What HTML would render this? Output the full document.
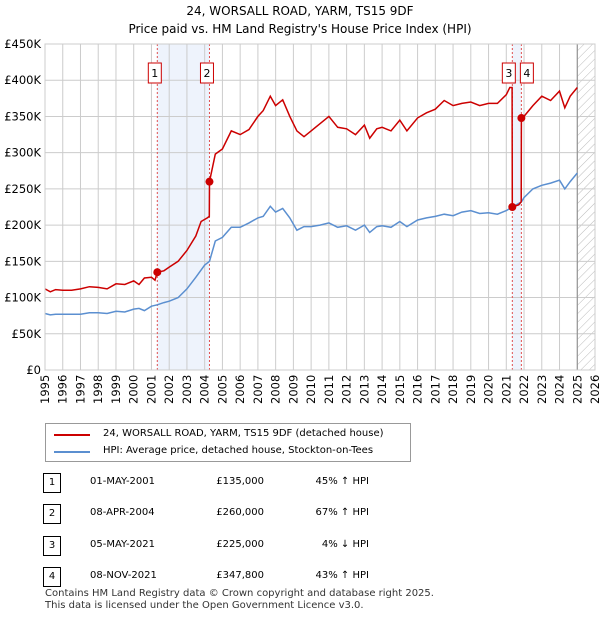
<!DOCTYPE html>
<html><head><meta charset="utf-8"><style>
body{margin:0;background:#fff;font-family:"DejaVu Sans","Liberation Sans",sans-serif;}
#wrap{position:relative;width:600px;height:620px;overflow:hidden;}
.t{position:absolute;font-size:10px;color:#000;white-space:nowrap;}
</style></head><body>
<div id="wrap">
<div class="t" style="left:0;width:600px;text-align:center;top:4px;font-size:12px;">24, WORSALL ROAD, YARM, TS15 9DF</div>
<div class="t" style="left:0;width:600px;text-align:center;top:22px;font-size:12px;">Price paid vs. HM Land Registry's House Price Index (HPI)</div>
<svg id="chart" width="600" height="420" style="position:absolute;left:0;top:0;font-family:'DejaVu Sans','Liberation Sans',sans-serif;"></svg>
<div style="position:absolute;left:45px;top:423px;width:364px;height:37px;border:1px solid #999;">
 <div style="position:absolute;left:8px;top:10px;width:36px;height:2px;background:#cc0000"></div>
 <div class="t" style="left:57px;top:4px;font-size:10px;">24, WORSALL ROAD, YARM, TS15 9DF (detached house)</div>
 <div style="position:absolute;left:8px;top:27px;width:36px;height:2px;background:#5b8fd0"></div>
 <div class="t" style="left:57px;top:21px;font-size:10px;">HPI: Average price, detached house, Stockton-on-Tees</div>
</div>
<div id="table"></div>
<div class="t" style="left:45px;top:588px;font-size:10px;color:#333;">Contains HM Land Registry data © Crown copyright and database right 2025.</div>
<div class="t" style="left:45px;top:600px;font-size:10px;color:#333;">This data is licensed under the Open Government Licence v3.0.</div>
</div>
<script>
const hpiYears=[1995,1995.3,1995.6,1996,1996.5,1997,1997.5,1998,1998.5,1999,1999.5,2000,2000.3,2000.6,2001,2001.33,2001.7,2002,2002.5,2003,2003.5,2004,2004.27,2004.6,2005,2005.5,2006,2006.5,2007,2007.3,2007.7,2008,2008.4,2008.8,2009.2,2009.6,2010,2010.5,2011,2011.5,2012,2012.5,2013,2013.3,2013.7,2014,2014.5,2015,2015.4,2016,2016.5,2017,2017.5,2018,2018.5,2019,2019.5,2020,2020.5,2021,2021.34,2021.85,2022,2022.5,2023,2023.5,2024,2024.3,2024.6,2025];
const hpiValues=[78,76,77,77,77,77,79,79,78,81,80,84,85,82,88,90,93,95,100,112,128,145,150,178,183,197,197,203,210,212,226,218,223,210,193,198,198,200,203,197,199,193,200,190,198,199,197,205,198,207,210,212,215,213,218,220,216,217,215,220,225,232,238,250,255,258,262,250,260,272];
const redYears=[1995,1995.3,1995.6,1996,1996.5,1997,1997.5,1998,1998.5,1999,1999.5,2000,2000.3,2000.6,2001,2001.2,2001.33,2001.7,2002,2002.5,2003,2003.5,2003.8,2004.15,2004.26,2004.27,2004.6,2005,2005.5,2006,2006.5,2007,2007.3,2007.7,2008,2008.4,2008.8,2009.2,2009.6,2010,2010.5,2011,2011.5,2012,2012.5,2013,2013.3,2013.7,2014,2014.5,2015,2015.4,2016,2016.5,2017,2017.5,2018,2018.5,2019,2019.5,2020,2020.5,2021,2021.2,2021.33,2021.34,2021.7,2021.84,2021.85,2022,2022.5,2023,2023.5,2024,2024.3,2024.6,2025];
const redValues=[112,108,111,110,110,112,115,114,112,119,118,123,118,127,128,124,135,137,142,150,165,185,205,210,212,260,298,305,330,325,332,350,358,378,365,373,350,330,322,330,340,350,335,333,325,338,320,333,335,330,345,330,348,355,360,372,365,368,370,365,368,368,380,390,390,225,228,232,347.8,350,365,378,372,385,362,378,390];
const saleYears=[2001.33,2004.27,2021.34,2021.85];
const salePrices=[135,260,225,347.8];
const saleLabels=["1","2","3","4"];
const yTicks=[0,50,100,150,200,250,300,350,400,450];
const yTickLabels=["£0","£50K","£100K","£150K","£200K","£250K","£300K","£350K","£400K","£450K"];
const xTicks=[1995,1996,1997,1998,1999,2000,2001,2002,2003,2004,2005,2006,2007,2008,2009,2010,2011,2012,2013,2014,2015,2016,2017,2018,2019,2020,2021,2022,2023,2024,2025,2026];
const tableDates=["01-MAY-2001","08-APR-2004","05-MAY-2021","08-NOV-2021"];
const tablePrices=["£135,000","£260,000","£225,000","£347,800"];
const tableHpi=["45% ↑ HPI","67% ↑ HPI","4% ↓ HPI","43% ↑ HPI"];

const L=45,R=595,T=44,B=370;
const x=v=>L+(v-1995)/31*(R-L);
const y=v=>B-v/450*(B-T);
const svg=document.getElementById('chart');
const NS='http://www.w3.org/2000/svg';
function mk(tag,attrs,parent){const e=document.createElementNS(NS,tag);for(const k in attrs)e.setAttribute(k,attrs[k]);(parent||svg).appendChild(e);return e;}
const defs=mk('defs',{});
const pat=mk('pattern',{id:'hatch',width:6,height:6,patternUnits:'userSpaceOnUse',patternTransform:'rotate(45)'},defs);
mk('line',{x1:0,y1:0,x2:0,y2:6,stroke:'#bbb','stroke-width':1},pat);
[[0,1],[2,3]].forEach((p,i)=>{
 const r=mk('rect',{x:x(saleYears[p[0]]),y:T,width:x(saleYears[p[1]])-x(saleYears[p[0]]),height:B-T,fill:'#eef3fc'});
 
 
});
const hz=mk('rect',{x:x(2025),y:T,width:R-x(2025),height:B-T,fill:'url(#hatch)'});


yTicks.forEach((v,i)=>{
 mk('line',{x1:L,x2:R,y1:y(v),y2:y(v),stroke:'#ccc','stroke-width':1});
 const t=mk('text',{x:L-4,y:y(v)+4,'text-anchor':'end','font-size':11.5,fill:'#000'});
 t.textContent=yTickLabels[i];
 
 
});
xTicks.forEach(v=>{
 mk('line',{x1:x(v),x2:x(v),y1:T,y2:B,stroke:'#ccc','stroke-width':1});
 const t=mk('text',{transform:`translate(${x(v)+4},${B+34}) rotate(-90)`,'font-size':11.5,fill:'#000'});
 t.textContent=v;
 
 
});
mk('line',{x1:x(2025),x2:x(2025),y1:T,y2:B,stroke:'#888','stroke-width':1});
saleYears.forEach(v=>{
 const l=mk('line',{x1:x(v),x2:x(v),y1:T,y2:B,stroke:'#e05050','stroke-width':1,'stroke-dasharray':'2,2'});
 
 
});
function pts(xs,ys){return xs.map((v,i)=>x(v).toFixed(1)+','+y(ys[i]).toFixed(1)).join(' ');}
const hl=mk('polyline',{points:pts(hpiYears,hpiValues),fill:'none',stroke:'#5b8fd0','stroke-width':1.5});


const rl=mk('polyline',{points:pts(redYears,redValues),fill:'none',stroke:'#cc0000','stroke-width':1.5});


saleYears.forEach((v,i)=>{
 const c=mk('circle',{cx:x(v),cy:y(salePrices[i]),r:4,fill:'#cc0000'});
 
 
 const bx=(i===2)?x(v)-10:(i===3?x(v)-1:x(v)-9);
 const g=mk('g',{});
 
 
 mk('rect',{x:bx,y:63,width:13,height:20,fill:'#fff',stroke:'#cc0000','stroke-width':1},g);
 const t=mk('text',{x:bx+6.5,y:77,'text-anchor':'middle','font-size':11,fill:'#000'},g);
 t.textContent=saleLabels[i];
});
mk('rect',{x:L,y:T,width:R-L,height:B-T,fill:'none',stroke:'#ccc'});
const tb=document.getElementById('table');
const rowsY=[473,504,536,567];
tableDates.forEach((d,i)=>{
 const row=document.createElement('div');
 
 
 row.style.cssText=`position:absolute;left:0;top:${rowsY[i]}px;width:600px;height:20px;font-size:10px;`;
 row.innerHTML=`<div style="position:absolute;left:43px;top:0;width:16px;height:18px;border:1px solid #000;text-align:center;line-height:18px;font-size:10px;">${saleLabels[i]}</div>
 <div class="t" style="left:90px;top:3px;">${d}</div>
 <div class="t" style="left:180px;width:84px;text-align:right;top:3px;">${tablePrices[i]}</div>
 <div class="t" style="left:280px;width:89px;text-align:right;top:3px;">${tableHpi[i]}</div>`;
 tb.appendChild(row);
});
</script>
</body></html>
